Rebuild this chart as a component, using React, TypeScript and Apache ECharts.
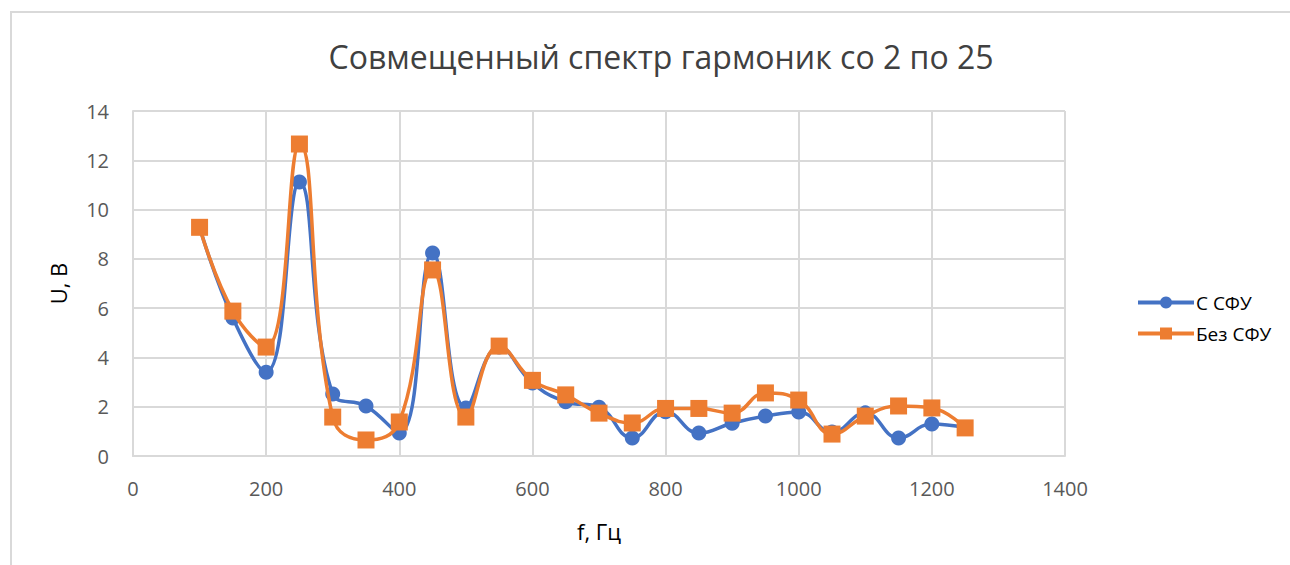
import React, { useEffect, useRef } from "react";
import * as echarts from "echarts";

const freqs = [100, 150, 200, 250, 300, 350, 400, 450, 500, 550, 600, 650, 700, 750, 800, 850, 900, 950, 1000, 1050, 1100, 1150, 1200, 1250];
const withSFU = [9.28, 5.6, 3.4, 11.12, 2.52, 2.03, 0.93, 8.24, 1.95, 4.42, 2.96, 2.2, 1.98, 0.73, 1.8, 0.93, 1.33, 1.62, 1.79, 0.97, 1.75, 0.73, 1.3, 1.15];
const withoutSFU = [9.28, 5.88, 4.42, 12.66, 1.58, 0.65, 1.38, 7.55, 1.58, 4.46, 3.07, 2.48, 1.74, 1.34, 1.93, 1.93, 1.74, 2.56, 2.27, 0.89, 1.62, 2.03, 1.95, 1.14];
const seriesNames = ["С СФУ", "Без СФУ"];
const titleText = "Совмещенный спектр гармоник со 2 по 25";
const xName = "f, Гц";
const yName = "U, В";

export default function App() {
  const ref = useRef<HTMLDivElement>(null);
  useEffect(() => {
    if (!ref.current) return;
    const chart = echarts.init(ref.current, null, { renderer: "svg" });
    const font = "'Open Sans', 'Noto Sans', sans-serif";
    const mk = (vals: number[]) => freqs.map((f, i) => [f, vals[i]]);
    chart.setOption({
      animation: false,
      textStyle: { fontFamily: font },
      title: {
        text: titleText,
        left: 656,
        textAlign: "center",
        top: 35,
        textStyle: { fontFamily: font, fontSize: 32, fontWeight: "normal", color: "#404040" },
      },
      graphic: [
        {
          type: "rect",
          z: -10,
          shape: { x: 11, y: 12, width: 1300, height: 600 },
          style: { fill: "none", stroke: "#d9d9d9", lineWidth: 2 },
          silent: true,
        },
      ],
      legend: {
        orient: "vertical",
        left: 1131,
        top: 288,
        itemWidth: 56,
        itemHeight: 15,
        itemGap: 12,
        lineStyle: { width: 4 },
        textStyle: { fontFamily: font, fontSize: 19, color: "#000", padding: [0, 0, 0, -3] },
        data: seriesNames,
      },
      grid: { left: 133, right: 225, top: 111, bottom: 109, containLabel: false },
      xAxis: {
        type: "value",
        min: 0,
        max: 1400,
        interval: 200,
        name: xName,
        nameLocation: "middle",
        nameGap: 64,
        nameTextStyle: { fontFamily: font, fontSize: 22, color: "#000" },
        axisLine: { show: true, lineStyle: { color: "#d9d9d9", width: 2 } },
        axisTick: { show: false },
        splitLine: { show: true, lineStyle: { color: "#d9d9d9", width: 2 } },
        axisLabel: { margin: 22, fontSize: 20, color: "#595959", fontFamily: font, formatter: (v: number) => String(v) },
      },
      yAxis: {
        type: "value",
        min: 0,
        max: 14,
        interval: 2,
        name: yName,
        nameLocation: "middle",
        nameGap: 64,
        nameTextStyle: { fontFamily: font, fontSize: 22, color: "#000" },
        axisLine: { show: true, lineStyle: { color: "#d9d9d9", width: 2 } },
        axisTick: { show: false },
        splitLine: { show: true, lineStyle: { color: "#d9d9d9", width: 2 } },
        axisLabel: { margin: 24, fontSize: 20, color: "#595959", fontFamily: font },
      },
      series: [
        {
          name: seriesNames[0],
          type: "line",
          data: mk(withSFU),
          smooth: 0.45,
          symbol: "circle",
          symbolSize: 15,
          itemStyle: { color: "#4472C4" },
          lineStyle: { color: "#4472C4", width: 3.5 },
          z: 2,
        },
        {
          name: seriesNames[1],
          type: "line",
          data: mk(withoutSFU),
          smooth: 0.45,
          symbol: "rect",
          symbolSize: 17,
          itemStyle: { color: "#ED7D31" },
          lineStyle: { color: "#ED7D31", width: 3.5 },
          z: 3,
        },
      ],
    });
    return () => chart.dispose();
  }, []);
  return (
    <div
      ref={ref}
      style={{ position: "absolute", left: 0, top: 0, width: 1290, height: 565, background: "#fff" }}
    />
  );
}
